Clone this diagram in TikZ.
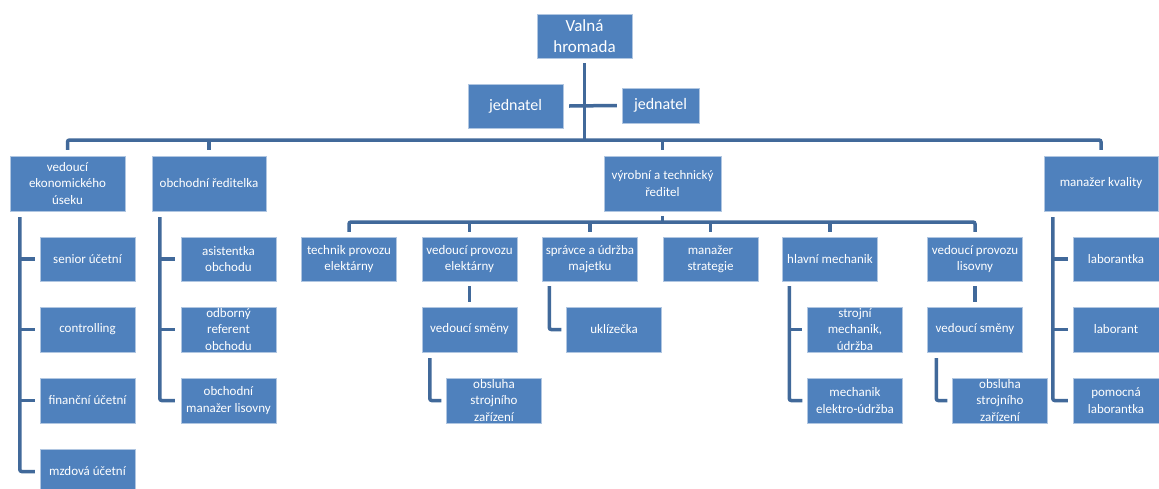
\documentclass[tikz,border=0pt]{standalone}
\usepackage{fontspec}
\setmainfont{Carlito}
\definecolor{boxblue}{HTML}{4F81BD}
\definecolor{lineblue}{HTML}{41699A}
\begin{document}
\begin{tikzpicture}[
  x=1pt, y=-1pt,
  orgbox/.style={rectangle, fill=boxblue, draw=white!55!boxblue, thin, text=white, align=center, inner sep=0pt, minimum width=95pt, minimum height=44pt, font=\fontsize{13}{16.5}\selectfont},
  headbox/.style={orgbox, minimum width=115pt, minimum height=55pt},
  lowbox/.style={orgbox, minimum height=45pt},
  conn/.style={draw=lineblue, line width=3.5pt, rounded corners=2pt}
]
\useasboundingbox [fill=white] (0, 0) rectangle (1159, 488);

% top
\node (valna) [orgbox, font=\fontsize{17}{21}\selectfont] at (584.5, 36) {Valná\\hromada};
\node (jedL) [orgbox, font=\fontsize{16}{19}\selectfont] at (515.5, 106) {jednatel};
\node (jedR) [orgbox, minimum width=77pt, minimum height=35pt, font=\fontsize{16}{19}\selectfont] at (660.5, 105.5) {jednatel};

% first level
\node (ekon) [headbox] at (67.5, 183.5) {vedoucí\\ekonomického\\úseku};
\node (obch) [headbox, minimum width=114pt] at (209, 183.5) {obchodní ředitelka};
\node (vyrob) [headbox, minimum width=117pt] at (662.5, 183.5) {výrobní a technický\\ředitel};
\node (kval) [headbox, minimum width=114pt] at (1101, 183.5) {manažer kvality};

% economics
\node (senior) [orgbox] at (87.5, 259) {senior účetní};
\node (control) [lowbox] at (87.5, 329.5) {controlling};
\node (financ) [lowbox] at (87.5, 400.5) {finanční účetní};
\node (mzdova) [lowbox] at (87.5, 471.5) {mzdová účetní};

% sales
\node (asist) [orgbox] at (228.5, 259) {asistentka\\obchodu};
\node (odbor) [lowbox] at (228.5, 329.5) {odborný\\referent\\obchodu};
\node (obchman) [lowbox] at (228.5, 400.5) {obchodní\\manažer lisovny};

% production
\node (tech) [orgbox] at (349, 259) {technik provozu\\elektárny};
\node (vedel) [orgbox] at (469.5, 259) {vedoucí provozu\\elektárny};
\node (sprav) [orgbox] at (590, 259) {správce a údržba\\majetku};
\node (strat) [orgbox] at (710.5, 259) {manažer\\strategie};
\node (hlav) [orgbox] at (830, 259) {hlavní mechanik};
\node (vedlis) [orgbox] at (975, 259) {vedoucí provozu\\lisovny};

\node (smenaL) [lowbox] at (469.5, 329.5) {vedoucí směny};
\node (obsL) [lowbox] at (494, 400.5) {obsluha\\strojního\\zařízení};
\node (uklid) [lowbox] at (614, 329.5) {uklízečka};
\node (strmech) [lowbox] at (855, 329.5) {strojní\\mechanik,\\údržba};
\node (mechel) [lowbox] at (855, 400.5) {mechanik\\elektro-údržba};
\node (smenaR) [lowbox] at (975, 329.5) {vedoucí směny};
\node (obsR) [lowbox] at (1000, 400.5) {obsluha\\strojního\\zařízení};

% quality
\node (laborka) [orgbox, minimum width=86pt] at (1116, 259) {laborantka};
\node (labor) [lowbox, minimum width=86pt] at (1116, 329.5) {laborant};
\node (pomoc) [lowbox, minimum width=86pt] at (1116, 400.5) {pomocná\\laborantka};

% bars
\coordinate (bar) at (0, 140);
\coordinate (bar2) at (0, 222);
\draw [conn] ([yshift=-5pt]valna.south) -- (valna.south |- bar);
\draw [conn] ([xshift=6pt]jedL.east) -- ([xshift=-5pt]jedR.west);
\draw [conn] ([yshift=6pt]ekon.north) -- (ekon.north |- bar) -- (kval.north |- bar) -- ([yshift=6pt]kval.north);
\draw [conn] (obch.north |- bar) -- ([yshift=6pt]obch.north);
\draw [conn] (vyrob.north |- bar) -- ([yshift=6pt]vyrob.north);

\draw [conn] ([yshift=-5pt]vyrob.south) -- (vyrob.south |- bar2);
\draw [conn] ([yshift=5pt]tech.north) -- (tech.north |- bar2) -- (vedlis.north |- bar2) -- ([yshift=5pt]vedlis.north);
\draw [conn] (vedel.north |- bar2) -- ([yshift=5pt]vedel.north);
\draw [conn] (sprav.north |- bar2) -- ([yshift=5pt]sprav.north);
\draw [conn] (strat.north |- bar2) -- ([yshift=5pt]strat.north);
\draw [conn] (hlav.north |- bar2) -- ([yshift=5pt]hlav.north);

% side columns
\coordinate (ekonL) at ([xshift=10pt, yshift=-6pt]ekon.south west);
\draw [conn] (ekonL) |- ([xshift=-5pt]mzdova.west);
\draw [conn] (ekonL |- senior.west) -- ([xshift=-5pt]senior.west);
\draw [conn] (ekonL |- control.west) -- ([xshift=-5pt]control.west);
\draw [conn] (ekonL |- financ.west) -- ([xshift=-5pt]financ.west);

\coordinate (obchL) at ([xshift=8pt, yshift=-6pt]obch.south west);
\draw [conn] (obchL) |- ([xshift=-6pt]obchman.west);
\draw [conn] (obchL |- asist.west) -- ([xshift=-6pt]asist.west);
\draw [conn] (obchL |- odbor.west) -- ([xshift=-6pt]odbor.west);

\coordinate (kvalL) at ([xshift=9pt, yshift=-6pt]kval.south west);
\draw [conn] (kvalL) |- ([xshift=-5pt]pomoc.west);
\draw [conn] (kvalL |- laborka.west) -- ([xshift=-5pt]laborka.west);
\draw [conn] (kvalL |- labor.west) -- ([xshift=-5pt]labor.west);

\coordinate (hlavL) at ([xshift=7pt, yshift=-5pt]hlav.south west);
\draw [conn] (hlavL) |- ([xshift=-5pt]mechel.west);
\draw [conn] (hlavL |- strmech.west) -- ([xshift=-5pt]strmech.west);

\coordinate (spravL) at ([xshift=7pt, yshift=-5pt]sprav.south west);
\draw [conn] (spravL) |- ([xshift=-5pt]uklid.west);

% shifts
\draw [conn] ([yshift=-5pt]vedel.south) -- ([yshift=5pt]smenaL.north);
\draw [conn] ([yshift=-5pt]vedlis.south) -- ([yshift=5pt]smenaR.north);
\coordinate (smenaLL) at ([xshift=8pt, yshift=-6pt]smenaL.south west);
\draw [conn] (smenaLL) |- ([xshift=-5pt]obsL.west);
\coordinate (smenaRL) at ([xshift=9pt, yshift=-6pt]smenaR.south west);
\draw [conn] (smenaRL) |- ([xshift=-5pt]obsR.west);

\end{tikzpicture}
\end{document}
